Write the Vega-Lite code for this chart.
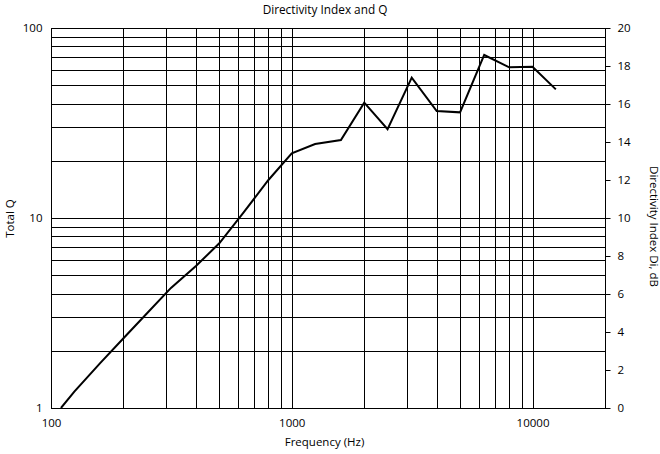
{
  "$schema": "https://vega.github.io/schema/vega-lite/v6.json",
  "width": 554,
  "height": 380,
  "autosize": {"type": "none"},
  "padding": {"left": 51, "top": 28, "right": 55, "bottom": 46},
  "config": {
    "font": "Open Sans",
    "view": {"stroke": "#000", "strokeWidth": 1},
    "axis": {"labelFont": "Open Sans", "titleFont": "Open Sans", "labelFontSize": 11.5, "titleFontSize": 11.5, "titleFontWeight": "normal", "labelColor": "#000", "titleColor": "#000", "domainColor": "#000", "tickColor": "#000", "gridColor": "#000", "gridOpacity": 1, "gridWidth": 1}
  },
  "title": {"text": "Directivity Index and Q", "fontSize": 11.8, "fontWeight": "normal", "font": "Open Sans", "color": "#000", "frame": "group", "anchor": "middle", "baseline": "alphabetic", "offset": 2, "dx": -3, "dy": 6},
  "data": {"values": [
    {"freq": 110, "Q": 1.0, "DI": 0.0},
    {"freq": 125, "Q": 1.219, "DI": 0.86},
    {"freq": 160, "Q": 1.722, "DI": 2.36},
    {"freq": 200, "Q": 2.328, "DI": 3.67},
    {"freq": 250, "Q": 3.141, "DI": 4.97},
    {"freq": 315, "Q": 4.285, "DI": 6.32},
    {"freq": 400, "Q": 5.585, "DI": 7.47},
    {"freq": 500, "Q": 7.362, "DI": 8.67},
    {"freq": 630, "Q": 10.666, "DI": 10.28},
    {"freq": 800, "Q": 15.849, "DI": 12.0},
    {"freq": 1000, "Q": 21.878, "DI": 13.4},
    {"freq": 1250, "Q": 24.491, "DI": 13.89},
    {"freq": 1600, "Q": 25.704, "DI": 14.1},
    {"freq": 2000, "Q": 40.458, "DI": 16.07},
    {"freq": 2500, "Q": 29.309, "DI": 14.67},
    {"freq": 3150, "Q": 54.828, "DI": 17.39},
    {"freq": 4000, "Q": 36.559, "DI": 15.63},
    {"freq": 5000, "Q": 35.975, "DI": 15.56},
    {"freq": 6300, "Q": 72.111, "DI": 18.58},
    {"freq": 8000, "Q": 62.087, "DI": 17.93},
    {"freq": 10000, "Q": 62.517, "DI": 17.96},
    {"freq": 12500, "Q": 47.534, "DI": 16.77}
  ]},
  "layer": [
    {
      "mark": {"type": "line", "color": "#000", "strokeWidth": 2, "clip": true},
      "encoding": {
        "x": {"field": "freq", "type": "quantitative", "scale": {"type": "log", "domain": [100, 20000], "nice": false},
          "axis": {"title": "Frequency (Hz)", "titleX": 273, "titleY": 37, "titleBaseline": "alphabetic", "titleAnchor": null, "values": [100,200,300,400,500,600,700,800,900,1000,2000,3000,4000,5000,6000,7000,8000,9000,10000,20000], "format": "d", "labelExpr": "(datum.value==100||datum.value==1000||datum.value==10000) ? datum.label : ''", "ticks": false, "labelPadding": 9, "domain": true, "grid": true, "labelFlush": false, "labelOverlap": false}},
        "y": {"field": "Q", "type": "quantitative", "scale": {"type": "log", "domain": [1, 100], "nice": false},
          "axis": {"title": "Total Q", "orient": "left", "titleX": -37.5, "titleBaseline": "alphabetic", "values": [1,2,3,4,5,6,7,8,9,10,20,30,40,50,60,70,80,90,100], "format": "d", "labelExpr": "(datum.value==1||datum.value==10||datum.value==100) ? datum.label : ''", "ticks": false, "labelPadding": 9, "grid": true, "labelFlush": false, "labelOverlap": false}}
      }
    },
    {
      "mark": {"type": "line", "color": "#000", "strokeWidth": 2, "strokeOpacity": 0, "clip": true},
      "encoding": {
        "x": {"field": "freq", "type": "quantitative", "scale": {"type": "log", "domain": [100, 20000], "nice": false}},
        "y": {"field": "DI", "type": "quantitative", "scale": {"type": "linear", "domain": [0, 20], "nice": false, "zero": false},
          "axis": {"title": "Directivity Index Di, dB", "orient": "right", "titleAngle": 90, "titleX": 44, "titleY": 198, "titleBaseline": "alphabetic", "values": [0,2,4,6,8,10,12,14,16,18,20], "tickSize": 5, "labelPadding": 7, "grid": false, "labelFlush": false, "labelOverlap": false}}
      }
    }
  ],
  "resolve": {"scale": {"y": "independent"}}
}
